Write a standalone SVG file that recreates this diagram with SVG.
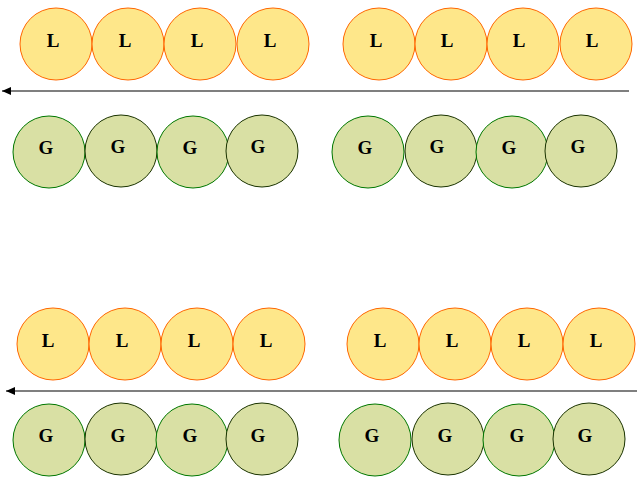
<svg xmlns="http://www.w3.org/2000/svg" width="639" height="484" viewBox="0 0 639 484">
<defs>
<style>
.l{fill:#FEE78A;stroke:#FF6600;stroke-width:1}
.g{fill:#D9E0A4;stroke:#007700;stroke-width:1}
.g2{fill:#D9E0A4;stroke:#1A3300;stroke-width:1}
.t{font-family:"Liberation Serif",serif;font-weight:bold;font-size:19px;fill:#000;text-anchor:middle}
.c{stroke:#000;stroke-width:1.2;fill:none;marker-end:url(#ah)}
</style>
<marker id="ah" markerWidth="10" markerHeight="8" refX="9" refY="4" orient="auto" markerUnits="userSpaceOnUse">
<path d="M0,0 L9,4 L0,8 Z" fill="#000"/>
</marker>
</defs>
<rect width="639" height="484" fill="#fff"/>
<g id="connectors">
<line class="c" x1="629" y1="91" x2="2" y2="91"/>
<line class="c" x1="637" y1="391" x2="6" y2="391"/>
</g>
<g id="L1"><circle class="l" cx="56" cy="44" r="36"/><text class="t" x="53" y="47">L</text></g>
<g id="L2"><circle class="l" cx="128" cy="44" r="36"/><text class="t" x="125" y="47">L</text></g>
<g id="L3"><circle class="l" cx="200" cy="44" r="36"/><text class="t" x="197" y="47">L</text></g>
<g id="L4"><circle class="l" cx="273" cy="44" r="36"/><text class="t" x="270" y="47">L</text></g>
<g id="L5"><circle class="l" cx="379" cy="44" r="36"/><text class="t" x="376" y="47">L</text></g>
<g id="L6"><circle class="l" cx="451" cy="44" r="36"/><text class="t" x="447" y="47">L</text></g>
<g id="L7"><circle class="l" cx="523" cy="44" r="36"/><text class="t" x="519" y="47">L</text></g>
<g id="L8"><circle class="l" cx="596" cy="44" r="36"/><text class="t" x="592" y="47">L</text></g>
<g id="G1"><circle class="g" cx="49" cy="152" r="36"/><text class="t" x="46" y="154">G</text></g>
<g id="G2"><circle class="g2" cx="121" cy="151" r="36"/><text class="t" x="118" y="153">G</text></g>
<g id="G3"><circle class="g" cx="193" cy="152" r="36"/><text class="t" x="190" y="154">G</text></g>
<g id="G4"><circle class="g2" cx="262" cy="151" r="36"/><text class="t" x="258" y="153">G</text></g>
<g id="G5"><circle class="g" cx="368" cy="152" r="36"/><text class="t" x="365" y="154">G</text></g>
<g id="G6"><circle class="g2" cx="441" cy="151" r="36"/><text class="t" x="437" y="153">G</text></g>
<g id="G7"><circle class="g" cx="512" cy="152" r="36"/><text class="t" x="509" y="154">G</text></g>
<g id="G8"><circle class="g2" cx="581" cy="151" r="36"/><text class="t" x="578" y="153">G</text></g>
<g id="L9"><circle class="l" cx="53" cy="344" r="36"/><text class="t" x="48" y="347">L</text></g>
<g id="L10"><circle class="l" cx="125" cy="344" r="36"/><text class="t" x="122" y="347">L</text></g>
<g id="L11"><circle class="l" cx="197" cy="344" r="36"/><text class="t" x="194" y="347">L</text></g>
<g id="L12"><circle class="l" cx="269" cy="344" r="36"/><text class="t" x="266" y="347">L</text></g>
<g id="L13"><circle class="l" cx="383" cy="344" r="36"/><text class="t" x="380" y="347">L</text></g>
<g id="L14"><circle class="l" cx="455" cy="344" r="36"/><text class="t" x="452" y="347">L</text></g>
<g id="L15"><circle class="l" cx="527" cy="344" r="36"/><text class="t" x="524" y="347">L</text></g>
<g id="L16"><circle class="l" cx="599" cy="344" r="36"/><text class="t" x="596" y="347">L</text></g>
<g id="G9"><circle class="g" cx="49" cy="440" r="36"/><text class="t" x="46" y="442">G</text></g>
<g id="G10"><circle class="g2" cx="121" cy="439" r="36"/><text class="t" x="118" y="442">G</text></g>
<g id="G11"><circle class="g" cx="192" cy="440" r="36"/><text class="t" x="190" y="442">G</text></g>
<g id="G12"><circle class="g2" cx="262" cy="439" r="36"/><text class="t" x="258" y="442">G</text></g>
<g id="G13"><circle class="g" cx="375" cy="440" r="36"/><text class="t" x="372" y="442">G</text></g>
<g id="G14"><circle class="g2" cx="448" cy="439" r="36"/><text class="t" x="445" y="442">G</text></g>
<g id="G15"><circle class="g" cx="519" cy="440" r="36"/><text class="t" x="517" y="442">G</text></g>
<g id="G16"><circle class="g2" cx="589" cy="439" r="36"/><text class="t" x="585" y="442">G</text></g>
</svg>
